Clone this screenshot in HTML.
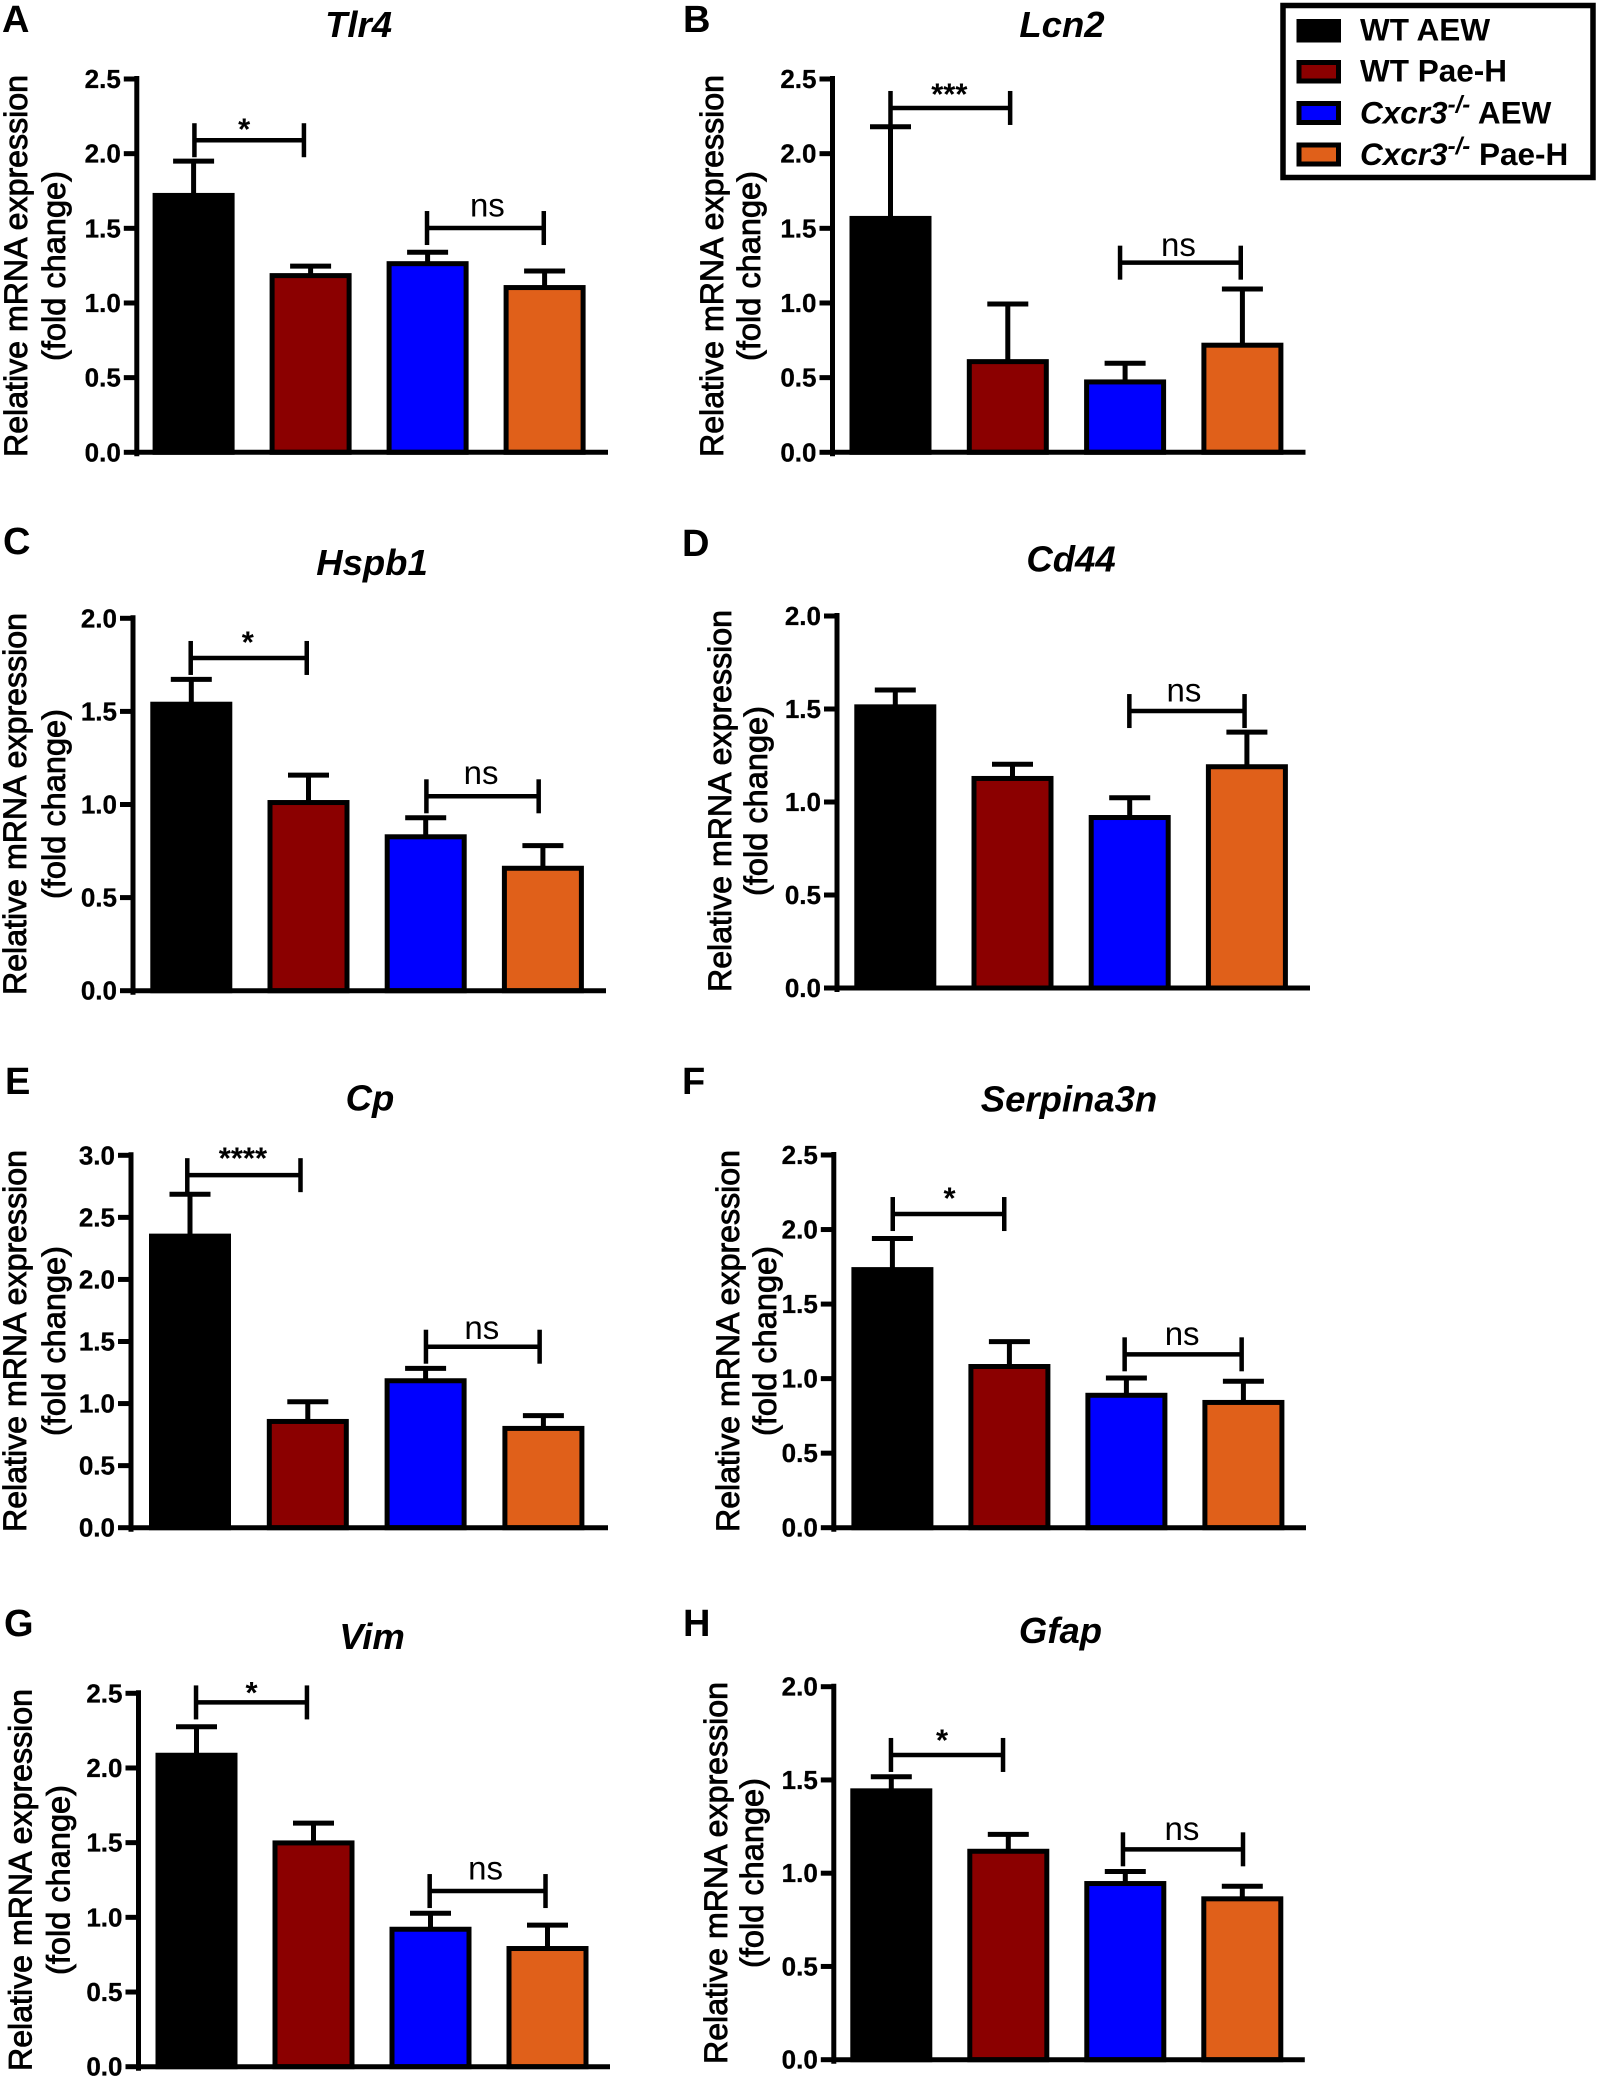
<!DOCTYPE html>
<html lang="en">
<head>
<meta charset="utf-8">
<title>Relative mRNA expression bar charts</title>
<style>
html,body{margin:0;padding:0;background:#fff;width:1599px;height:2078px;overflow:hidden}
svg{display:block}
text{font-family:"Liberation Sans",Arial,sans-serif;fill:#000}
.axis-title{font-size:32px;stroke:#000;stroke-width:.85px}
.tick-label{font-size:26px;font-weight:700;stroke:#000;stroke-width:.3px}
.panel-title{font-size:36.5px;font-weight:700;font-style:italic}
.panel-letter{font-size:38px;font-weight:700}
.ns-label{font-size:33px}
.star-label{font-size:31px;font-weight:700}
.legend-text{font-size:31.5px;font-weight:700}
</style>
</head>
<body>
<svg id="figure" xmlns="http://www.w3.org/2000/svg" width="1599" height="2078" viewBox="0 0 1599 2078">
  <rect x="0" y="0" width="1599" height="2078" fill="#fff"/>
  <g id="panels"></g>
  <g>
    <rect x="1283" y="5.5" width="310" height="172" fill="#fff" stroke="#000" stroke-width="5.5"/>
    <rect x="1299" y="21.5" width="39.5" height="18.5" fill="#000" stroke="#000" stroke-width="5"/>
    <text class="legend-text" x="1360" y="40.7">WT AEW</text>
    <rect x="1299" y="62.5" width="39.5" height="18.5" fill="#8B0000" stroke="#000" stroke-width="5"/>
    <text class="legend-text" x="1360" y="81.7">WT Pae-H</text>
    <rect x="1299" y="103.5" width="39.5" height="19" fill="#0000FF" stroke="#000" stroke-width="5"/>
    <text class="legend-text" x="1360" y="123.3"><tspan font-style="italic">Cxcr3</tspan><tspan font-style="italic" font-size="24" dy="-11">-/-</tspan><tspan dy="11"> AEW</tspan></text>
    <rect x="1299" y="145" width="39.5" height="19" fill="#E0601A" stroke="#000" stroke-width="5"/>
    <text class="legend-text" x="1360" y="165"><tspan font-style="italic">Cxcr3</tspan><tspan font-style="italic" font-size="24" dy="-11">-/-</tspan><tspan dy="11"> Pae-H</tspan></text>
  </g>
</svg>
<script>
// ---------- Data ----------
const categories = ['WT AEW', 'WT Pae-H', 'Cxcr3-/- AEW', 'Cxcr3-/- Pae-H'];
const barColors = ['#000000', '#8B0000', '#0000FF', '#E0601A'];

const ticks25 = [0, 0.5, 1, 1.5, 2, 2.5];
const ticks20 = [0, 0.5, 1, 1.5, 2];
const ticks30 = [0, 0.5, 1, 1.5, 2, 2.5, 3];
const tickLabels25 = ['0.0', '0.5', '1.0', '1.5', '2.0', '2.5'];
const tickLabels20 = ['0.0', '0.5', '1.0', '1.5', '2.0'];
const tickLabels30 = ['0.0', '0.5', '1.0', '1.5', '2.0', '2.5', '3.0'];

const tlr4Means = [1.737, 1.20, 1.28, 1.12];
const tlr4Uppers = [1.95, 1.247, 1.34, 1.214];
const tlr4BracketLevels = [2.09, 1.502];

const lcn2Means = [1.583, 0.624, 0.488, 0.734];
const lcn2Uppers = [2.18, 0.993, 0.596, 1.094];
const lcn2BracketLevels = [2.306, 1.27];

const hspb1Means = [1.552, 1.024, 0.84, 0.671];
const hspb1Uppers = [1.672, 1.158, 0.929, 0.779];
const hspb1BracketLevels = [1.787, 1.044];

const cd44Means = [1.525, 1.14, 0.93, 1.203];
const cd44Uppers = [1.602, 1.203, 1.023, 1.376];
const cd44BracketLevels = [1.489];

const cpMeans = [2.369, 0.876, 1.204, 0.82];
const cpUppers = [2.686, 1.015, 1.284, 0.903];
const cpBracketLevels = [2.84, 1.458];

const serpina3nMeans = [1.748, 1.098, 0.905, 0.857];
const serpina3nUppers = [1.94, 1.248, 1.004, 0.982];
const serpina3nBracketLevels = [2.104, 1.163];

const vimMeans = [2.102, 1.515, 0.937, 0.808];
const vimUppers = [2.276, 1.631, 1.027, 0.948];
const vimBracketLevels = [2.439, 1.176];

const gfapMeans = [1.455, 1.131, 0.958, 0.876];
const gfapUppers = [1.517, 1.208, 1.009, 0.93];
const gfapBracketLevels = [1.634, 1.128];

// ---------- Panel layout ----------
const panels = [
  {key:'tlr4', letter:'A', letterX:2, letterY:32, title:'Tlr4', titleX:358.6, titleY:37,
   axisX:136.8, zeroY:452.3, topY:79, endX:608, firstX:193.6, step:117,
   line1X:27, line2X:65, titleCy:266,
   means:tlr4Means, uppers:tlr4Uppers, levels:tlr4BracketLevels, ticks:ticks25, tickLabels:tickLabels25,
   brackets:[{from:0.007,to:0.943,label:'*',dx:-5,dy:16},{from:1.995,to:2.993,label:'ns',dx:2,dy:21}]},
  {key:'lcn2', letter:'B', letterX:683, letterY:32, title:'Lcn2', titleX:1062, titleY:37,
   axisX:832.5, zeroY:452.3, topY:79, endX:1305.5, firstX:890.5, step:117.3,
   line1X:723, line2X:760, titleCy:266,
   means:lcn2Means, uppers:lcn2Uppers, levels:lcn2BracketLevels, ticks:ticks25, tickLabels:tickLabels25,
   brackets:[{from:0,to:1.02,label:'***',dx:-1,dy:19},{from:1.957,to:2.986,label:'ns',dx:-2,dy:16}]},
  {key:'hspb1', letter:'C', letterX:3, letterY:554, title:'Hspb1', titleX:372, titleY:575,
   axisX:133, zeroY:990.7, topY:618.3, endX:606, firstX:191.3, step:117.2,
   line1X:26, line2X:65, titleCy:804,
   means:hspb1Means, uppers:hspb1Uppers, levels:hspb1BracketLevels, ticks:ticks20, tickLabels:tickLabels20,
   brackets:[{from:-0.005,to:0.985,label:'*',dx:-1,dy:21},{from:2.006,to:2.964,label:'ns',dx:-1.5,dy:22}]},
  {key:'cd44', letter:'D', letterX:682, letterY:556, title:'Cd44', titleX:1071, titleY:571.7,
   axisX:837, zeroY:988, topY:616, endX:1310, firstX:895.3, step:117.2,
   line1X:731, line2X:767, titleCy:801,
   means:cd44Means, uppers:cd44Uppers, levels:cd44BracketLevels, ticks:ticks20, tickLabels:tickLabels20,
   brackets:[{from:1.997,to:2.98,label:'ns',dx:-3,dy:19}]},
  {key:'cp', letter:'E', letterX:5, letterY:1094, title:'Cp', titleX:370, titleY:1110.7,
   axisX:131, zeroY:1527.7, topY:1155.3, endX:608, firstX:190, step:117.8,
   line1X:26, line2X:65, titleCy:1341,
   means:cpMeans, uppers:cpUppers, levels:cpBracketLevels, ticks:ticks30, tickLabels:tickLabels30,
   brackets:[{from:-0.023,to:0.938,label:'****',dx:-1,dy:22},{from:2.003,to:2.968,label:'ns',dx:-1,dy:17}]},
  {key:'serpina3n', letter:'F', letterX:682, letterY:1094, title:'Serpina3n', titleX:1069, titleY:1111.7,
   axisX:833.8, zeroY:1527.7, topY:1155, endX:1306, firstX:892.4, step:117,
   line1X:739, line2X:776, titleCy:1341,
   means:serpina3nMeans, uppers:serpina3nUppers, levels:serpina3nBracketLevels, ticks:ticks25, tickLabels:tickLabels25,
   brackets:[{from:0.003,to:0.956,label:'*',dx:1,dy:21},{from:1.985,to:2.985,label:'ns',dx:-1,dy:19}]},
  {key:'vim', letter:'G', letterX:4, letterY:1636, title:'Vim', titleX:372, titleY:1649,
   axisX:138.5, zeroY:2066.7, topY:1693.3, endX:610, firstX:196.5, step:117,
   line1X:31.6, line2X:69.5, titleCy:1880,
   means:vimMeans, uppers:vimUppers, levels:vimBracketLevels, ticks:ticks25, tickLabels:tickLabels25,
   brackets:[{from:-0.004,to:0.944,label:'*',dx:0,dy:15},{from:1.993,to:2.983,label:'ns',dx:-2,dy:21}]},
  {key:'gfap', letter:'H', letterX:683, letterY:1636, title:'Gfap', titleX:1060.5, titleY:1643,
   axisX:833.8, zeroY:2059.7, topY:1686.7, endX:1304.8, firstX:891.3, step:117,
   line1X:727, line2X:763, titleCy:1873,
   means:gfapMeans, uppers:gfapUppers, levels:gfapBracketLevels, ticks:ticks20, tickLabels:tickLabels20,
   brackets:[{from:-0.003,to:0.955,label:'*',dx:-5,dy:20},{from:1.98,to:3.006,label:'ns',dx:-1,dy:19}]}
];

// ---------- Drawing ----------
const SVG_NS = 'http://www.w3.org/2000/svg';
const BAR_WIDTH = 82;
const BAR_STROKE = 5;
const CAP_WIDTH = 41;
const TICK_LENGTH = 13;
const BRACKET_DROP = 17;

function make(tag, parent, attrs, text) {
  const el = document.createElementNS(SVG_NS, tag);
  for (const k in attrs) el.setAttribute(k, attrs[k]);
  if (text !== undefined) el.textContent = text;
  parent.appendChild(el);
  return el;
}
function line(parent, x1, y1, x2, y2, width) {
  return make('line', parent, {x1: x1, y1: y1, x2: x2, y2: y2, stroke: '#000', 'stroke-width': width});
}

const root = document.getElementById('panels');

panels.forEach(function (p) {
  const maxTick = p.ticks[p.ticks.length - 1];
  const yScale = function (v) { return p.zeroY - v * (p.zeroY - p.topY) / maxTick; };
  const xScale = function (i) { return p.firstX + i * p.step; };

  const g = make('g', root, {});
  
  

  const letter = make('text', g, {class: 'panel-letter', x: p.letterX, y: p.letterY}, p.letter);
  
  

  const title = make('text', g, {class: 'panel-title', x: p.titleX, y: p.titleY, 'text-anchor': 'middle'}, p.title);
  
  

  const yTitle1 = make('text', g, {class: 'axis-title', 'text-anchor': 'middle', textLength: 382, lengthAdjust: 'spacingAndGlyphs',
    transform: 'translate(' + p.line1X + ',' + p.titleCy + ') rotate(-90)'}, 'Relative mRNA expression');
  
  

  const yTitle2 = make('text', g, {class: 'axis-title', 'text-anchor': 'middle', textLength: 190, lengthAdjust: 'spacingAndGlyphs',
    transform: 'translate(' + p.line2X + ',' + p.titleCy + ') rotate(-90)'}, '(fold change)');
  
  

  // error bars, then bars
  p.means.forEach(function (mean, i) {
    const cx = xScale(i);
    const top = yScale(mean);
    const up = yScale(p.uppers[i]);

    const err = make('g', g, {});
    
    
    line(err, cx, up, cx, top + 3, 5);
    line(err, cx - CAP_WIDTH / 2, up, cx + CAP_WIDTH / 2, up, 5);

    const bar = make('rect', g, {
      x: cx - BAR_WIDTH / 2 + BAR_STROKE / 2,
      y: top + BAR_STROKE / 2,
      width: BAR_WIDTH - BAR_STROKE,
      height: Math.max(0, p.zeroY - top - BAR_STROKE / 2),
      fill: barColors[i],
      stroke: '#000',
      'stroke-width': BAR_STROKE
    });
    
    
    make('title', bar, {}, categories[i] + ': ' + mean);
  });

  // axes
  const yAxis = line(g, p.axisX, p.topY - 3, p.axisX, p.zeroY + 4, 5);
  
  

  const xAxis = line(g, p.axisX, p.zeroY, p.endX, p.zeroY, 5);
  
  

  p.ticks.forEach(function (t, i) {
    const ty = yScale(t);
    const tick = line(g, p.axisX - TICK_LENGTH, ty, p.axisX, ty, 5);
    
    

    const lab = make('text', g, {class: 'tick-label', x: p.axisX - TICK_LENGTH - 3, y: ty + 9, 'text-anchor': 'end'}, p.tickLabels[i]);
    
    
  });

  // significance brackets
  p.brackets.forEach(function (b, i) {
    const x1 = xScale(b.from);
    const x2 = xScale(b.to);
    const by = yScale(p.levels[i]);

    const br = make('g', g, {});
    
    
    line(br, x1, by, x2, by, 4.5);
    line(br, x1, by - BRACKET_DROP, x1, by + BRACKET_DROP, 4.5);
    line(br, x2, by - BRACKET_DROP, x2, by + BRACKET_DROP, 4.5);

    const isNs = b.label === 'ns';
    const lx = (x1 + x2) / 2 + b.dx;
    const ly = by - b.dy + (isNs ? 9.5 : 15.5);
    const sig = make('text', g, {class: isNs ? 'ns-label' : 'star-label', x: lx, y: ly, 'text-anchor': 'middle'}, b.label);
    
    
  });
});
</script>
</body>
</html>
